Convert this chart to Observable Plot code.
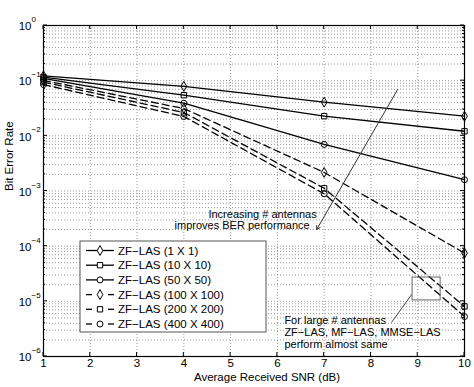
<!DOCTYPE html>
<html><head><meta charset="utf-8">
<script src="https://cdn.jsdelivr.net/npm/d3@7"></script>
<script src="https://cdn.jsdelivr.net/npm/@observablehq/plot@0.6"></script>
<style>
body{margin:0;background:#fff;}
#chart svg{font-family:"Liberation Sans",Arial,Helvetica,sans-serif;}
</style>
</head><body><div id="chart"></div>
<script>
// ---- data ----
const snr = [1, 4, 7, 10];
const seriesNames = ["ZF−LAS (1 X 1)", "ZF−LAS (10 X 10)", "ZF−LAS (50 X 50)", "ZF−LAS (100 X 100)", "ZF−LAS (200 X 200)", "ZF−LAS (400 X 400)"];
const ber_1x1     = [0.122, 0.079, 0.0407, 0.0227];
const ber_10x10   = [0.116, 0.0545, 0.0227, 0.0121];
const ber_50x50   = [0.110, 0.039, 0.0070, 0.0016];
const ber_100x100 = [0.101, 0.0313, 0.00217, 7.5e-5];
const ber_200x200 = [0.094, 0.0265, 0.00112, 8.1e-6];
const ber_400x400 = [0.085, 0.0224, 0.00089, 5.3e-6];
const seriesSymbols = ["diamond", "square", "circle", "diamond", "square", "circle"];
const seriesDashed = [false, false, false, true, true, true];
const xTicks = [1, 2, 3, 4, 5, 6, 7, 8, 9, 10];
const yExponents = [-6, -5, -4, -3, -2, -1, 0];
const xLabel = "Average Received SNR (dB)";
const yLabel = "Bit Error Rate";
// annotations (data coordinates)
const noteArrowX = [8.57, 6.84];
const noteArrowY = [0.069, 2.0e-4];
const noteIncLines = ["Increasing # antennas", "improves BER performance"];
const noteIncX = [6.84, 6.69];
const noteIncY = [3.75e-4, 2.37e-4];
const noteBoxX = [8.89, 9.49];
const noteBoxY = [2.7e-5, 1.04e-5];
const noteLeaderX = [8.87, 8.44];
const noteLeaderY = [1.33e-5, 4.14e-6];
const noteLargeLines = ["For large # antennas", "ZF−LAS, MF−LAS, MMSE−LAS", "perform almost same"];
const noteLargeX = 6.15;
const noteLargeY = [4.5e-6, 2.72e-6, 1.65e-6];

(function () {
// ---- derived tables ----
const seriesValues = [ber_1x1, ber_10x10, ber_50x50, ber_100x100, ber_200x200, ber_400x400];
const rows = seriesNames.flatMap((name, i) => snr.map((x, j) => ({name, x, y: seriesValues[i][j], symbol: seriesSymbols[i], dashed: seriesDashed[i]})));
const minorY = yExponents.slice(0, -1).flatMap(e => d3.range(1, 10).map(k => k * Math.pow(10, e))).concat([1]);
const font = "Liberation Sans, Arial, Helvetica, sans-serif";
const markerR = 3;

const dotMarks = ["diamond", "square", "circle"].map(s =>
  Plot.dot(rows.filter(d => d.symbol === s), {x: "x", y: "y", symbol: s, r: markerR, stroke: "black", strokeWidth: 1, fill: "none"})
);

const chart = Plot.plot({
  width: 474, height: 387,
  marginLeft: 43, marginRight: 10, marginTop: 25, marginBottom: 31,
  style: {fontFamily: font, fontSize: "11px", background: "white", overflow: "visible", color: "black"},
  x: {domain: [1, 10], axis: null},
  y: {type: "log", domain: [1e-6, 1], axis: null},
  marks: [
    Plot.ruleY(minorY, {stroke: "#9a9a9a", strokeDasharray: "1,2", strokeWidth: 1}),
    Plot.ruleX(xTicks, {stroke: "#9a9a9a", strokeDasharray: "1,2", strokeWidth: 1}),
    Plot.line(rows.filter(d => !d.dashed), {x: "x", y: "y", z: "name", stroke: "black", strokeWidth: 1.3}),
    Plot.line(rows.filter(d => d.dashed), {x: "x", y: "y", z: "name", stroke: "black", strokeWidth: 1.3, strokeDasharray: "7,4"}),
    ...dotMarks,
    Plot.frame({stroke: "black", strokeWidth: 1.2}),
    // tick labels
    Plot.text(xTicks, {x: d => d, text: d => String(d), frameAnchor: "bottom", dy: 10, fontSize: 11.5}),
    Plot.text(yExponents, {y: d => Math.pow(10, d), text: () => "10", frameAnchor: "left", textAnchor: "end", dx: -12, dy: 1, fontSize: 11.5}),
    Plot.text(yExponents, {y: d => Math.pow(10, d), text: d => d === 0 ? "0" : "−" + (-d), frameAnchor: "left", textAnchor: "start", dx: -12, dy: -6, fontSize: 8}),
    // axis labels
    Plot.text([xLabel], {text: d => d, frameAnchor: "bottom", dx: 13, dy: 24, fontSize: 11.5}),
    Plot.text([yLabel], {text: d => d, frameAnchor: "left", dx: -34, rotate: -90, fontSize: 11.5}),
    // annotations
    Plot.arrow([0], {x1: () => noteArrowX[0], y1: () => noteArrowY[0], x2: () => noteArrowX[1], y2: () => noteArrowY[1], stroke: "#333", strokeWidth: 1, headLength: 6}),
    Plot.text(noteIncLines, {x: (d, i) => noteIncX[i], y: (d, i) => noteIncY[i], text: d => d, textAnchor: "end", fontSize: 11}),
    Plot.rect([0], {x1: () => noteBoxX[0], x2: () => noteBoxX[1], y1: () => noteBoxY[0], y2: () => noteBoxY[1], fill: "white", fillOpacity: 0, stroke: "#666", strokeWidth: 1}),
    Plot.link([0], {x1: () => noteLeaderX[0], y1: () => noteLeaderY[0], x2: () => noteLeaderX[1], y2: () => noteLeaderY[1], stroke: "#444", strokeWidth: 1}),
    Plot.text(noteLargeLines, {x: () => noteLargeX, y: (d, i) => noteLargeY[i], text: d => d, textAnchor: "start", fontSize: 11})
  ]
});

document.getElementById("chart").append(chart);

// inward ticks and legend drawn with the chart's own scales
const sx = chart.scale("x"), sy = chart.scale("y");
const svg = d3.select(chart);
const pxLeft = sx.apply(1), pxRight = sx.apply(10), pxBottom = sy.apply(1e-6), pxTop = sy.apply(1);
const tg = svg.append("g").attr("stroke", "black").attr("stroke-width", 1);
xTicks.forEach(v => {
  const px = sx.apply(v);
  tg.append("line").attr("x1", px).attr("x2", px).attr("y1", pxBottom).attr("y2", pxBottom - 4);
  tg.append("line").attr("x1", px).attr("x2", px).attr("y1", pxTop).attr("y2", pxTop + 4);
});
minorY.forEach(v => {
  const py = sy.apply(v);
  const major = Math.abs(Math.log10(v) - Math.round(Math.log10(v))) < 1e-9;
  const len = major ? 4 : 2;
  tg.append("line").attr("x1", pxLeft).attr("x2", pxLeft + len).attr("y1", py).attr("y2", py);
  tg.append("line").attr("x1", pxRight).attr("x2", pxRight - len).attr("y1", py).attr("y2", py);
});

// legend box
const lg = svg.append("g").attr("text-anchor", "start");
const lx = pxLeft + 37, ly = pxBottom - 115, lw = 186, lh = 91, step = 14.7;
lg.append("rect").attr("x", lx).attr("y", ly).attr("width", lw).attr("height", lh).attr("fill", "white").attr("stroke", "#555").attr("stroke-width", 1);
const symMap = {diamond: d3.symbolDiamond, square: d3.symbolSquare, circle: d3.symbolCircle};
seriesNames.forEach((name, i) => {
  const cy = ly + 9.5 + i * step;
  const x0 = lx + 6, x1 = lx + 34, cx = (x0 + x1) / 2;
  if (seriesDashed[i]) {
    lg.append("line").attr("x1", x0).attr("x2", x0 + 6).attr("y1", cy).attr("y2", cy).attr("stroke", "black").attr("stroke-width", 1.3);
    lg.append("line").attr("x1", x1 - 6).attr("x2", x1).attr("y1", cy).attr("y2", cy).attr("stroke", "black").attr("stroke-width", 1.3);
  } else {
    lg.append("line").attr("x1", x0).attr("x2", x1).attr("y1", cy).attr("y2", cy).attr("stroke", "black").attr("stroke-width", 1.3);
  }
  lg.append("path").attr("d", d3.symbol(symMap[seriesSymbols[i]], Math.PI * markerR * markerR)()).attr("transform", `translate(${cx},${cy})`).attr("fill", "white").attr("stroke", "black");
  lg.append("text").attr("x", x1 + 4).attr("y", cy).attr("dy", "0.35em").attr("text-anchor", "start").attr("font-size", 11.5).attr("font-family", font).text(name);
});
})();
</script>
</body></html>
